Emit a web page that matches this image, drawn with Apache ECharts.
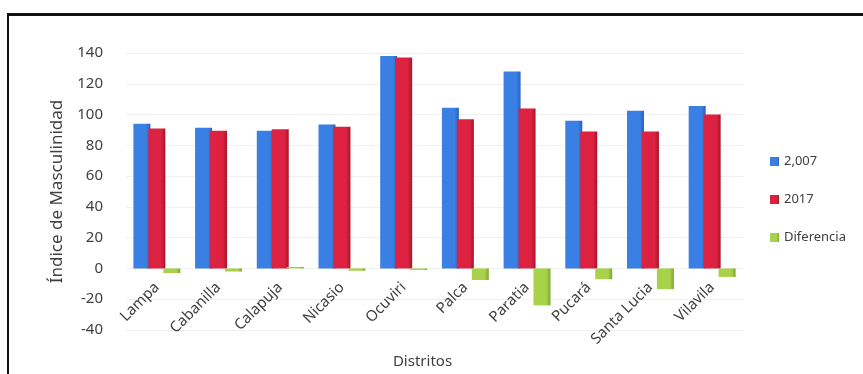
<!DOCTYPE html>
<html>
<head>
<meta charset="utf-8">
<script src="https://cdn.jsdelivr.net/npm/echarts@6/dist/echarts.min.js"></script>
<style>
  html, body { margin: 0; padding: 0; background: #fff; }
  #chart { position: absolute; left: 7px; top: 13px; width: 856px; height: 361px;
    border-top: 3px solid #111; border-left: 2px solid #111; box-sizing: border-box; }
</style>
</head>
<body>
<div id="chart"></div>
<script>
// datos
const distritos = ['Lampa', 'Cabanilla', 'Calapuja', 'Nicasio', 'Ocuviri', 'Palca', 'Paratia', 'Pucará', 'Santa Lucia', 'Vilavila'];
const valores2007 = [94, 91.5, 89.5, 93.5, 138, 104.5, 128, 96, 102.5, 105.5];
const valores2017 = [91, 89.5, 90.5, 92, 137, 97, 104, 89, 89, 100];
const diferencia = [-3, -2, 1, -1.5, -1, -7.5, -24, -7, -13.5, -5.5];
const ejeY = { min: -40, max: 140, interval: 20 };

const chart = echarts.init(document.getElementById('chart'));
const font = 'Noto Sans';

const grad = (c1, c2) => new echarts.graphic.LinearGradient(0, 0, 1, 0, [
  { offset: 0, color: c1 }, { offset: 0.75, color: c1 }, { offset: 1, color: c2 }
]);

const option = {
  animation: false,
  textStyle: { fontFamily: font },
  color: ['#3a80e4', '#dc2240', '#a8d24a'],
  grid: { left: 117, right: 120, top: 37, bottom: 44, outerBoundsMode: 'none', containLabel: false },
  legend: {
    orient: 'vertical',
    right: 12,
    top: 134,
    itemWidth: 9,
    itemHeight: 9,
    itemGap: 25,
    icon: 'rect',
    textStyle: { fontSize: 13, color: '#404040', fontFamily: font },
    data: ['2,007', '2017', 'Diferencia']
  },
  xAxis: {
    type: 'category',
    data: distritos,
    offset: -62,
    name: 'Distritos',
    nameLocation: 'middle',
    nameGap: 77,
    nameTextStyle: { fontSize: 15, color: '#404040', padding: [0, 24, 0, 0] },
    axisLine: { onZero: false, lineStyle: { color: 'rgba(0,0,0,0)' } },
    axisTick: { show: false },
    axisLabel: { rotate: 45, fontSize: 15, color: '#404040', margin: 17 }
  },
  yAxis: {
    type: 'value',
    min: ejeY.min,
    max: ejeY.max,
    interval: ejeY.interval,
    name: 'Índice de Masculinidad',
    nameLocation: 'middle',
    nameGap: 60,
    nameTextStyle: { fontSize: 17, color: '#404040' },
    axisLine: { show: false },
    axisTick: { show: false },
    axisLabel: { fontSize: 15, color: '#404040', margin: 23 },
    splitLine: { lineStyle: { color: '#f0f0f0' } }
  },
  series: [
    { name: '2,007', type: 'bar', data: valores2007, barWidth: 17, barGap: '-12%',
      itemStyle: { color: grad('#3a80e4', '#2a5fc0') } },
    { name: '2017', type: 'bar', data: valores2017, barWidth: 17, barGap: '-12%',
      itemStyle: { color: grad('#dc2240', '#a8142c') } },
    { name: 'Diferencia', type: 'bar', data: diferencia, barWidth: 17, barGap: '-12%',
      itemStyle: { color: grad('#a8d24a', '#7fa62e') } }
  ]
};
chart.setOption(option);
</script>
</body>
</html>
